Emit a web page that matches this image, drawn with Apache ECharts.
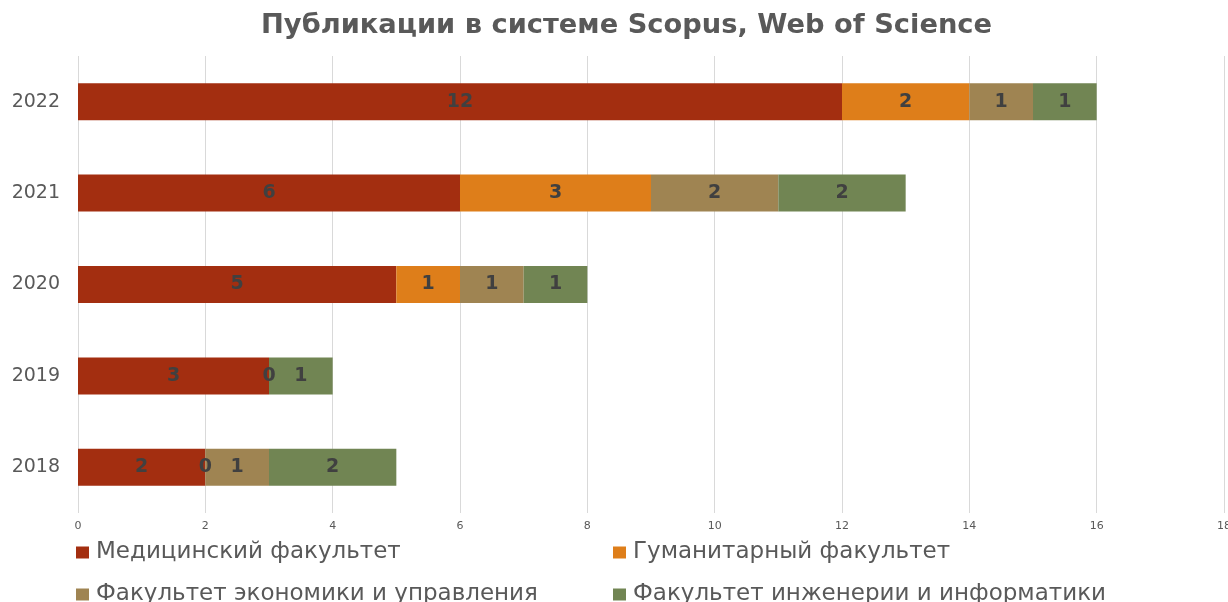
<!DOCTYPE html>
<html>
<head>
<meta charset="utf-8">
<script src="https://cdn.jsdelivr.net/npm/echarts@6/dist/echarts.min.js"></script>
<style>
  html, body { margin: 0; padding: 0; background: #fff; }
  #chart { width: 1228px; height: 602px; }
</style>
</head>
<body>
<div id="chart"></div>
<script>
  // данные
  var years = ['2018', '2019', '2020', '2021', '2022'];
  var names = ['Медицинский факультет', 'Гуманитарный факультет', 'Факультет экономики и управления', 'Факультет инженерии и информатики'];
  var medical = [2, 3, 5, 6, 12];
  var humanities = [0, 0, 1, 3, 2];
  var economics = [1, '-', 1, 2, 1];
  var engineering = [2, 1, 1, 2, 1];
  var colors = ['#A32E10', '#DE7E1A', '#9F8452', '#718553'];

  var myChart = echarts.init(document.getElementById('chart'));
  var font = 'DejaVu Sans';

  function bar(name, data) {
    return {
      name: name,
      type: 'bar',
      stack: 'total',
      barWidth: 37,
      data: data,
      label: {
        show: true,
        position: 'inside',
        color: '#404040',
        fontFamily: font,
        fontWeight: 'bold',
        fontSize: 19
      }
    };
  }

  // одна легенда на каждый пункт, чтобы поставить их в две колонки
  function legendItem(name, left, top) {
    return {
      left: left,
      top: top,
      itemWidth: 13,
      itemHeight: 12,
      icon: 'rect',
      data: [name],
      textStyle: { color: '#595959', fontFamily: font, fontSize: 23, padding: [0, 0, 0, 2] }
    };
  }

  myChart.setOption({
    backgroundColor: '#fff',
    color: colors,
    animation: false,
    title: {
      text: 'Публикации в системе Scopus, Web of Science',
      left: 256,
      top: 7,
      textStyle: { color: '#595959', fontFamily: font, fontWeight: 'bold', fontSize: 27.3 }
    },
    legend: [
      legendItem(names[0], 71, 536),
      legendItem(names[1], 608, 536),
      legendItem(names[2], 71, 578),
      legendItem(names[3], 608, 578)
    ],
    grid: { left: 78, right: 4, top: 56, bottom: 89, containLabel: false, outerBoundsMode: 'none' },
    xAxis: {
      type: 'value',
      min: 0,
      max: 18,
      interval: 2,
      axisLine: { show: false },
      axisTick: { show: false },
      splitLine: { show: true, lineStyle: { color: '#D9D9D9', width: 1 } },
      axisLabel: { color: '#595959', fontFamily: font, fontSize: 11, margin: 8 }
    },
    yAxis: {
      type: 'category',
      data: years,
      axisLine: { show: false },
      axisTick: { show: false },
      axisLabel: { color: '#595959', fontFamily: font, fontSize: 19, margin: 18 }
    },
    series: [
      bar(names[0], medical),
      bar(names[1], humanities),
      bar(names[2], economics),
      bar(names[3], engineering)
    ]
  });
</script>
</body>
</html>
